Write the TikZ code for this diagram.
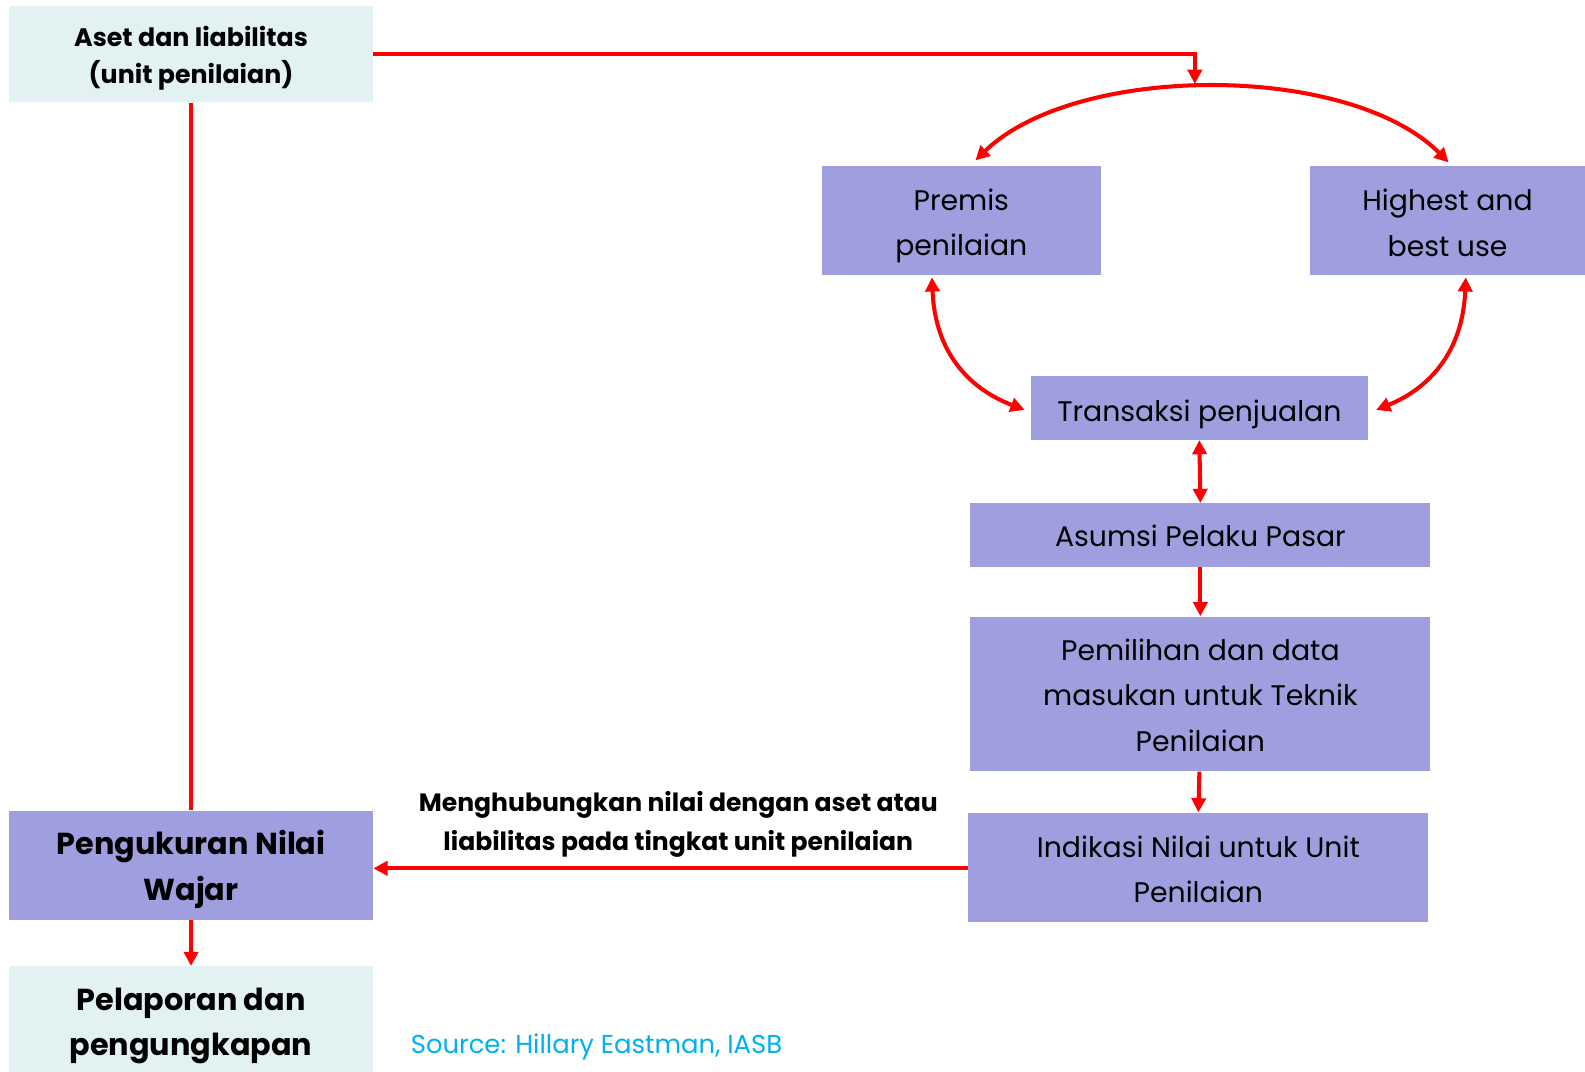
\documentclass[tikz,border=0pt]{standalone}
\usepackage{fontspec}
\setmainfont{Poppins}
\usetikzlibrary{arrows.meta,calc}
\definecolor{boxblue}{HTML}{9F9FDF}
\definecolor{boxpale}{HTML}{E2F2F2}
\definecolor{linkred}{HTML}{FF0000}
\definecolor{srcblue}{HTML}{00B0F0}
\begin{document}
\begin{tikzpicture}[x=0.5pt,y=-0.5pt,
  bluebox/.style={fill=boxblue,inner sep=0pt},
  palebox/.style={fill=boxpale,inner sep=0pt},
  txt/.style={inner sep=0pt,align=center,font=\fontsize{14}{22.5}\selectfont},
  boldtxt/.style={inner sep=0pt,align=center,font=\fontsize{15}{22.5}\selectfont\bfseries},
  link/.style={draw=linkred,line width=2pt,-{Triangle[length=7pt,width=7pt]}},
  dlink/.style={draw=linkred,line width=2pt,{Triangle[length=7pt,width=7pt]}-{Triangle[length=7pt,width=7pt]}},
  plain/.style={draw=linkred,line width=2pt}]
\useasboundingbox (0,0) rectangle (1568,1060);
% boxes
\node[palebox,minimum width=180pt,minimum height=47.5pt] (aset) at (189,53.5) {};
\node[bluebox,minimum width=138pt,minimum height=54pt] (premis) at (951,218) {};
\node[bluebox,minimum width=136pt,minimum height=54pt] (hbu) at (1432,218) {};
\node[bluebox,minimum width=166.5pt,minimum height=31.5pt] (trans) at (1186.5,403.5) {};
\node[bluebox,minimum width=227.5pt,minimum height=31.5pt] (asumsi) at (1187.5,529.5) {};
\node[bluebox,minimum width=227.5pt,minimum height=76.5pt] (pemilihan) at (1187.5,686.5) {};
\node[bluebox,minimum width=227.5pt,minimum height=54pt] (indikasi) at (1185.5,858) {};
\node[bluebox,minimum width=180pt,minimum height=54pt] (ukur) at (189,856) {};
\node[palebox,minimum width=180pt,minimum height=52pt] (lapor) at (189,1008) {};
% box texts
\node[txt,font=\fontsize{12.5}{18.5}\selectfont\bfseries] (asetT) at ($(aset)+(0,4)$) {Aset dan liabilitas\\(unit penilaian)};
\node[txt] (premisT) at ($(premis)+(0,5.5)$) {Premis\\penilaian};
\node[txt] (hbuT) at ($(hbu)+(0,2.5)$) {Highest and\\best use};
\node[txt] (transT) at ($(trans)+(0,6)$) {Transaksi penjualan};
\node[txt] (asumsiT) at ($(asumsi)+(0,1)$) {Asumsi Pelaku Pasar};
\node[txt] (pemilihanT) at ($(pemilihan)+(0,1)$) {Pemilihan dan data\\masukan untuk Teknik\\Penilaian};
\node[txt] (indikasiT) at ($(indikasi)+(0,2)$) {Indikasi Nilai untuk Unit\\Penilaian};
\node[boldtxt] (ukurT) at ($(ukur)+(0,4)$) {Pengukuran Nilai\\Wajar};
\node[boldtxt] (laporT) at ($(lapor)+(0,7)$) {Pelaporan dan\\pengungkapan};
% free labels
\node[txt,font=\fontsize{12.4}{19}\selectfont\bfseries] (msg) at (671,815.5) {Menghubungkan nilai dengan aset atau\\liabilitas pada tingkat unit penilaian};
\node[inner sep=0pt,text=srcblue,font=\fontsize{12.8}{16}\selectfont,anchor=west] (src) at (406,1036) {Source: Hillary Eastman, IASB};
% connectors
\coordinate (top) at (1182,83);
\draw[link] (aset.east) -| (top);
\draw[dlink] ($(premis.north)+(14,-5)$) .. controls (1065,62) and (1335,62) .. ($(hbu.north)+(1,-3)$);
\draw[dlink] ($(premis.south)+(-29,2)$) .. controls (925,350) and (960,385) .. ($(trans.west)+(-6,2)$);
\draw[dlink] ($(hbu.south)+(18,2)$) .. controls (1447,350) and (1412,385) .. ($(trans.east)+(8,2)$);
\draw[dlink] (trans.south) -- (asumsi.north);
\draw[link] (asumsi.south) -- (pemilihan.north);
\draw[link] ($(pemilihan.south)+(-1,0)$) -- (indikasi.north);
\draw[link] ($(indikasi.west)+(0,1)$) -- ($(indikasi.west -| ukur.east)+(0,1)$);
\draw[plain] (aset.south) -- (ukur.north);
\draw[link] (ukur.south) -- (lapor.north);
\end{tikzpicture}
\end{document}
